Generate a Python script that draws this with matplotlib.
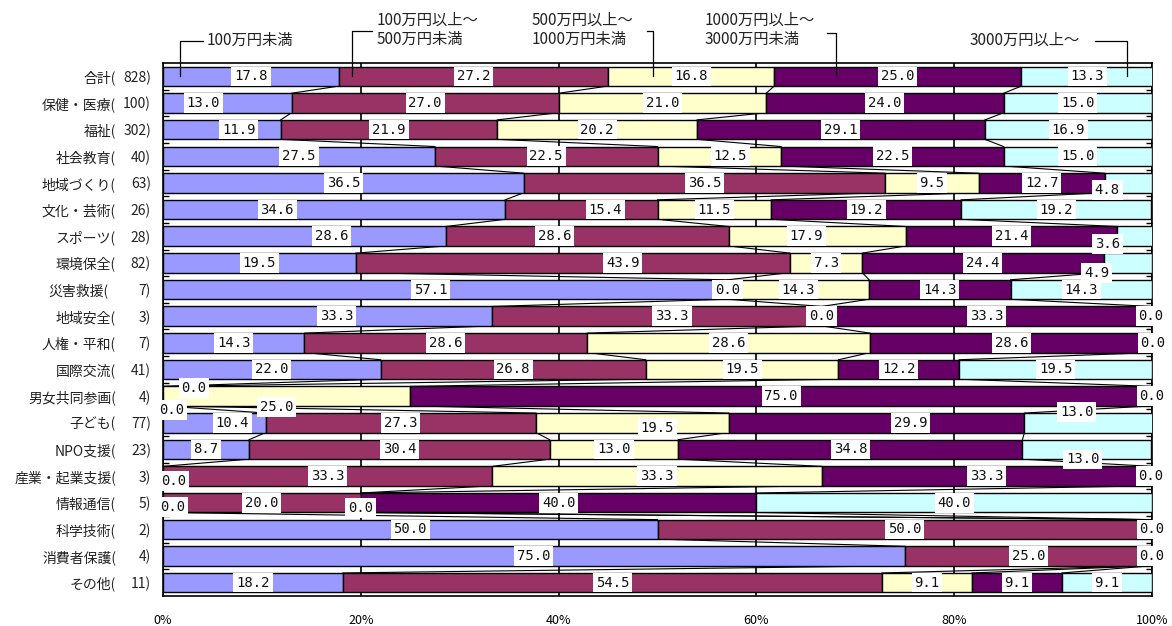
import matplotlib
matplotlib.use("Agg")
import matplotlib.pyplot as plt
import matplotlib.transforms as mtransforms
from matplotlib.lines import Line2D
import numpy as np

W, H = 1172, 626
JP = ["Noto Sans CJK JP", "DejaVu Sans"]

categories = ["合計", "保健・医療", "福祉", "社会教育", "地域づくり", "文化・芸術",
              "スポーツ", "環境保全", "災害救援", "地域安全", "人権・平和", "国際交流",
              "男女共同参画", "子ども", "NPO支援", "産業・起業支援", "情報通信",
              "科学技術", "消費者保護", "その他"]
counts = [828, 100, 302, 40, 63, 26, 28, 82, 7, 3, 7, 41, 4, 77, 23, 3, 5, 2, 4, 11]

series_names = ["100万円未満", "100万円以上～\n500万円未満", "500万円以上～\n1000万円未満",
                "1000万円以上～\n3000万円未満", "3000万円以上～"]
under_100 = [17.8, 13.0, 11.9, 27.5, 36.5, 34.6, 28.6, 19.5, 57.1, 33.3,
             14.3, 22.0, 0.0, 10.4, 8.7, 0.0, 0.0, 50.0, 75.0, 18.2]
from_100 = [27.2, 27.0, 21.9, 22.5, 36.5, 15.4, 28.6, 43.9, 0.0, 33.3,
            28.6, 26.8, 0.0, 27.3, 30.4, 33.3, 20.0, 50.0, 25.0, 54.5]
from_500 = [16.8, 21.0, 20.2, 12.5, 9.5, 11.5, 17.9, 7.3, 14.3, 0.0,
            28.6, 19.5, 25.0, 19.5, 13.0, 33.3, 0.0, 0.0, 0.0, 9.1]
from_1000 = [25.0, 24.0, 29.1, 22.5, 12.7, 19.2, 21.4, 24.4, 14.3, 33.3,
             28.6, 12.2, 75.0, 29.9, 34.8, 33.3, 40.0, 0.0, 0.0, 9.1]
over_3000 = [13.3, 15.0, 16.9, 15.0, 4.8, 19.2, 3.6, 4.9, 14.3, 0.0,
             0.0, 19.5, 0.0, 13.0, 13.0, 0.0, 40.0, 0.0, 0.0, 9.1]

colors = ["#9999FF", "#993366", "#FFFFCC", "#660066", "#CCFFFF"]

# hand-placed label nudges (row, series) -> (dx, dy) in pixels, dy downward
nudges = {
    (1, 0): (-24, 0), (2, 0): (17, 0), (3, 2): (11, 0),
    (4, 4): (-21, 7), (5, 0): (-57, 0), (5, 1): (24, 0),
    (6, 0): (27, 0), (6, 1): (-33, 0), (6, 2): (-11, 0), (6, 4): (-28, 8),
    (7, 1): (50, 0), (7, 4): (-31, 10), (8, 0): (-15, 0),
    (9, 0): (9, 0), (9, 1): (15, 0),
    (12, 0): (31, -8), (12, 1): (9, 14), (12, 2): (-10, 11),
    (13, 0): (18, 0), (13, 2): (25, 5), (13, 3): (34, 0), (13, 4): (-12, -11),
    (14, 4): (-4, 10), (15, 0): (11, 5), (16, 0): (10, 4), (16, 2): (0, 5),
}

data = np.array([under_100, from_100, from_500, from_1000, over_3000])
n = len(categories)
rows = np.arange(n)
bar_h = 0.73

fig = plt.figure(figsize=(W / 100, H / 100), dpi=100)
ax = fig.add_axes([163 / W, 1 - 596 / H, (1152 - 163) / W, (596 - 63) / H])

lefts = np.zeros(n)
bounds = [lefts.copy()]
for j, vals in enumerate(data):
    ax.barh(rows, vals, left=lefts, height=bar_h, color=colors[j],
            edgecolor="black", linewidth=1.0, zorder=3)
    for i, v in enumerate(vals):
        dx, dy = nudges.get((i, j), (0, 0))
        ax.annotate(f"{v:.1f}", (lefts[i] + v / 2, i), xytext=(dx, -dy),
                    textcoords="offset pixels", ha="center", va="center",
                    fontfamily="DejaVu Sans Mono", fontsize=10, color="#111111",
                    bbox=dict(boxstyle="square,pad=0.2", fc="white", ec="none"),
                    zorder=6, annotation_clip=False)
    lefts = lefts + vals
    bounds.append(lefts.copy())

# series lines between neighbouring bars
for k in range(1, 5):
    b = bounds[k]
    for i in range(n - 1):
        ax.plot([b[i], b[i + 1]], [i + bar_h / 2, i + 1 - bar_h / 2],
                color="black", lw=0.8, zorder=2)

ax.set_xlim(0, 100)
ax.set_ylim(n - 0.5, -0.5)
ax.set_xticks([0, 20, 40, 60, 80, 100])
ax.set_xticklabels(["0%", "20%", "40%", "60%", "80%", "100%"], fontfamily=JP, fontsize=9)
ax.tick_params(axis="x", length=0, pad=13)
ax.set_yticks([])
ax.set_yticks(rows[:-1] + 0.5, minor=True)
ax.tick_params(axis="y", which="minor", direction="in", length=4, width=1,
               left=True, right=True)
ax.grid(axis="x", color="black", lw=1.2, zorder=0)
ax.set_axisbelow(True)
for s in ax.spines.values():
    s.set_linewidth(1.2)

ytr = ax.get_yaxis_transform()
for i, (name, c) in enumerate(zip(categories, counts)):
    xname = 116 if name != "災害救援" else 109
    ax.text((xname - 163) / 989, i + 0.05, name + "(", transform=ytr, ha="right",
            va="center", fontfamily=JP, fontsize=10, color="#222222")
    ax.text((151 - 163) / 989, i + 0.05, f"{c})", transform=ytr, ha="right",
            va="center", fontfamily=JP, fontsize=10, color="#222222")

# legend callouts above the first bar
top_px = mtransforms.Affine2D().scale(1 / W, -1 / H).translate(0, 1) + fig.transFigure
callouts = [
    # text left, text centre y, elbow start x, elbow y, anchor x (data), series
    (207, 40, 203, 40.7, 1.7, 0),
    (377, 30, 372, 30.7, 19.1, 1),
    (532, 30, 647, 30.7, 49.5, 2),
    (705, 30, 827, 32.7, 68.0, 3),
    (970, 40, 1095, 40.7, 97.5, 4),
]
for tx, ty, ex, ey, xa, j in callouts:
    fig.text(tx / W, 1 - ty / H, series_names[j], ha="left", va="center",
             fontfamily=JP, fontsize=11, linespacing=1.15, color="#222222")
    ax_px = ax.transData.transform((xa, 0))
    ay = H - ax_px[1]
    fig.add_artist(Line2D([ex, ax_px[0], ax_px[0]], [ey, ey, ay],
                          transform=top_px, color="black", lw=0.9, zorder=7))

fig.savefig("out.png", dpi=100)
